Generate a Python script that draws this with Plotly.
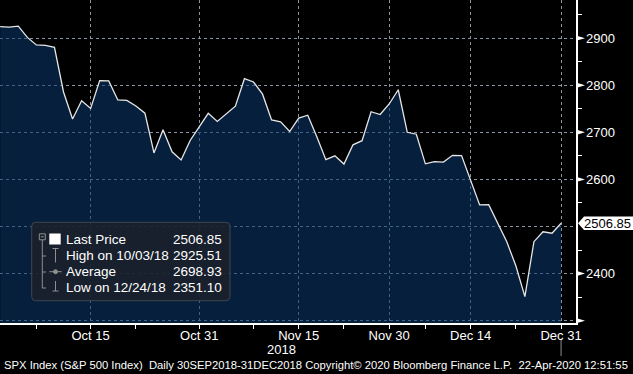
import plotly.graph_objects as go

# ---------------- data ----------------
dates = [
    "2018-10-01", "2018-10-02", "2018-10-03", "2018-10-04", "2018-10-05",
    "2018-10-08", "2018-10-09", "2018-10-10", "2018-10-11", "2018-10-12",
    "2018-10-15", "2018-10-16", "2018-10-17", "2018-10-18", "2018-10-19",
    "2018-10-22", "2018-10-23", "2018-10-24", "2018-10-25", "2018-10-26",
    "2018-10-29", "2018-10-30", "2018-10-31",
    "2018-11-01", "2018-11-02", "2018-11-05", "2018-11-06", "2018-11-07",
    "2018-11-08", "2018-11-09", "2018-11-12", "2018-11-13", "2018-11-14",
    "2018-11-15", "2018-11-16", "2018-11-19", "2018-11-20", "2018-11-21",
    "2018-11-23", "2018-11-26", "2018-11-27", "2018-11-28", "2018-11-29",
    "2018-11-30",
    "2018-12-03", "2018-12-04", "2018-12-06", "2018-12-07", "2018-12-10",
    "2018-12-11", "2018-12-12", "2018-12-13", "2018-12-14", "2018-12-17",
    "2018-12-18", "2018-12-19", "2018-12-20", "2018-12-21", "2018-12-24",
    "2018-12-26", "2018-12-27", "2018-12-28", "2018-12-31",
]
closes = [
    2924.59, 2923.43, 2925.51, 2901.61, 2885.57,
    2884.43, 2880.34, 2785.68, 2728.37, 2767.13,
    2750.79, 2809.92, 2809.21, 2768.78, 2767.78,
    2755.88, 2740.69, 2656.10, 2705.57, 2658.69,
    2641.25, 2682.63, 2711.74,
    2740.37, 2723.06, 2738.31, 2755.45, 2813.89,
    2806.83, 2781.01, 2726.22, 2722.18, 2701.58,
    2730.20, 2736.27, 2690.73, 2641.89, 2649.93,
    2632.56, 2673.45, 2682.17, 2743.79, 2737.80,
    2760.17,
    2790.37, 2700.06, 2695.95, 2633.08, 2637.72,
    2636.78, 2651.07, 2650.54, 2599.95, 2545.94,
    2546.16, 2506.96, 2467.42, 2416.62, 2351.10,
    2467.70, 2488.83, 2485.74, 2506.85,
]
x_tick_dates = ["2018-10-15", "2018-10-31", "2018-11-15", "2018-11-30", "2018-12-14", "2018-12-31"]
x_tick_labels = ["Oct 15", "Oct 31", "Nov 15", "Nov 30", "Dec 14", "Dec 31"]
x_minor_dates = ["2018-10-05", "2018-10-22", "2018-11-08", "2018-11-23", "2018-12-07", "2018-12-21"]
y_grid_vals = [2300, 2400, 2500, 2600, 2700, 2800, 2900]
y_tick_labels = ["", "2400", "", "2600", "2700", "2800", "2900"]
y_minor_vals = [2350, 2450, 2550, 2650, 2750, 2850, 2950]
stat_labels = ["Last Price", "High on 10/03/18", "Average", "Low on 12/24/18"]
stat_values = ["2506.85", "2925.51", "2698.93", "2351.10"]
last_label = "2506.85"
footer = ("SPX Index (S&P 500 Index)\u00a0\u00a0Daily 30SEP2018-31DEC2018 Copyright\u00a9 2020 "
          "Bloomberg Finance L.P.\u00a0\u00a022-Apr-2020 12:51:55")
year_label = "2018"

# ---------------- geometry ----------------
W, H = 633, 374
PW, PH = 576, 323          # plot area size (l=0, t=0)
XR = [-0.02, 63.65]
YR = [2295, 2981]
FONT = "Liberation Sans, Arial, sans-serif"
WHITE = "#ffffff"
GRID = "#8a95a3"

xs = list(range(len(dates)))
idx = {d: i for i, d in enumerate(dates)}


def px2x(px):
    return px / PW


def py2y(py):
    return (PH - py) / PH


units_per_px = (YR[1] - YR[0]) / PH

fig = go.Figure()
fig.add_trace(go.Scatter(
    x=xs, y=closes, mode="lines",
    line=dict(color="#e6e6e6", width=1.3),
    fill="tozeroy", fillcolor="rgba(9,56,109,0.55)",
    hoverinfo="skip", showlegend=False,
))

shapes = []
# y tick triangles on right axis
for v in y_grid_vals:
    if v == 2500:
        continue
    h = 2.7 * units_per_px
    shapes.append(dict(type="path", xref="paper", yref="y",
                       path=f"M {px2x(576)} {v + h} L {px2x(585)} {v} L {px2x(576)} {v - h} Z",
                       fillcolor=WHITE, line=dict(width=0), layer="above"))

# last price marker box
lp = closes[-1]
h = 6.8 * units_per_px
shapes.append(dict(type="path", xref="paper", yref="y",
                   path=(f"M {px2x(578)} {lp} L {px2x(584)} {lp + h} L {px2x(633)} {lp + h} "
                         f"L {px2x(633)} {lp - h} L {px2x(584)} {lp - h} Z"),
                   fillcolor=WHITE, line=dict(width=0), layer="above"))

# vertical marker under last date
shapes.append(dict(type="line", xref="x", yref="paper",
                   x0=idx["2018-12-31"], x1=idx["2018-12-31"], y0=py2y(340), y1=py2y(356),
                   line=dict(color="#8c8c8c", width=1)))

# legend box (rounded)
bx0, bx1, by0, by1, r = 31.7, 230, 222.3, 300.7, 4
pts = (f"M {px2x(bx0 + r)} {py2y(by0)} L {px2x(bx1 - r)} {py2y(by0)} "
       f"Q {px2x(bx1)} {py2y(by0)} {px2x(bx1)} {py2y(by0 + r)} "
       f"L {px2x(bx1)} {py2y(by1 - r)} Q {px2x(bx1)} {py2y(by1)} {px2x(bx1 - r)} {py2y(by1)} "
       f"L {px2x(bx0 + r)} {py2y(by1)} Q {px2x(bx0)} {py2y(by1)} {px2x(bx0)} {py2y(by1 - r)} "
       f"L {px2x(bx0)} {py2y(by0 + r)} Q {px2x(bx0)} {py2y(by0)} {px2x(bx0 + r)} {py2y(by0)} Z")
shapes.append(dict(type="path", xref="paper", yref="paper", path=pts,
                   fillcolor="rgba(27,33,43,0.88)", line=dict(color="#3e4652", width=1), layer="above"))

ICON = "#8f8f8f"


def seg(x0, y0, x1, y1, color=ICON, w=1):
    shapes.append(dict(type="line", xref="paper", yref="paper",
                       x0=px2x(x0), y0=py2y(y0), x1=px2x(x1), y1=py2y(y1),
                       line=dict(color=color, width=w), layer="above"))


rows_y = [239.5, 255.5, 271.5, 287.5]
# tree
shapes.append(dict(type="rect", xref="paper", yref="paper",
                   x0=px2x(39.3), x1=px2x(45.3), y0=py2y(233.8), y1=py2y(239.8),
                   line=dict(color=ICON, width=1), fillcolor="rgba(0,0,0,0)", layer="above"))
seg(40.8, 236.8, 43.8, 236.8)
seg(42.3, 239.8, 42.3, 288)
for ry in rows_y[1:]:
    seg(42.3, ry + 0.5, 46, ry + 0.5)
# last price white square
shapes.append(dict(type="rect", xref="paper", yref="paper",
                   x0=px2x(49.3), x1=px2x(60.7), y0=py2y(233.5), y1=py2y(244.5),
                   line=dict(width=0), fillcolor=WHITE, layer="above"))
# high icon
seg(52.5, 248.5, 58.5, 248.5)
seg(55.5, 248.5, 55.5, 262.5)
# average icon
seg(49.3, 271.7, 61.7, 271.7)
shapes.append(dict(type="circle", xref="paper", yref="paper",
                   x0=px2x(53.5), x1=px2x(57.5), y0=py2y(269.7), y1=py2y(273.7),
                   line=dict(color=ICON, width=1), fillcolor=ICON, layer="above"))
# low icon
seg(55.5, 281, 55.5, 291)
seg(52.5, 291, 58.5, 291)

annotations = []
for lab, val, ry in zip(stat_labels, stat_values, rows_y):
    annotations.append(dict(xref="paper", yref="paper", x=px2x(63.5), y=py2y(ry),
                            xanchor="left", yanchor="middle", text=lab, showarrow=False,
                            font=dict(family=FONT, size=13.5, color=WHITE)))
    annotations.append(dict(xref="paper", yref="paper", x=px2x(223.5), y=py2y(ry),
                            xanchor="right", yanchor="middle", text=val, showarrow=False,
                            font=dict(family=FONT, size=13.5, color=WHITE)))

annotations.append(dict(xref="paper", yref="y", x=px2x(632), y=lp, xanchor="right", yanchor="middle",
                        text=last_label, showarrow=False, borderpad=0,
                        font=dict(family=FONT, size=13, color="#000000")))
annotations.append(dict(xref="paper", yref="paper", x=px2x(281), y=py2y(349), xanchor="center",
                        yanchor="middle", text=year_label, showarrow=False,
                        font=dict(family=FONT, size=13, color=WHITE)))
annotations.append(dict(xref="paper", yref="paper", x=px2x(2), y=py2y(365), xanchor="left",
                        yanchor="middle", text=footer, showarrow=False,
                        font=dict(family=FONT, size=11.25, color=WHITE)))

fig.update_layout(
    template="none",
    width=W, height=H,
    margin=dict(l=0, r=W - PW, t=0, b=H - PH, pad=0),
    paper_bgcolor="#000000", plot_bgcolor="#000000",
    showlegend=False,
    shapes=shapes, annotations=annotations,
    xaxis=dict(
        range=XR, autorange=False, fixedrange=True,
        tickvals=[idx[d] for d in x_tick_dates], ticktext=x_tick_labels,
        ticks="outside", ticklen=4, tickwidth=1, tickcolor=WHITE,
        ticklabelstandoff=-5,
        tickfont=dict(family=FONT, size=13, color=WHITE),
        showline=True, linecolor=WHITE, linewidth=2,
        showgrid=True, gridcolor=GRID, gridwidth=1, griddash="3px,3px",
        zeroline=False, automargin=False,
        minor=dict(tickvals=[idx[d] for d in x_minor_dates], ticks="outside", ticklen=4,
                   tickcolor=WHITE, tickwidth=1, showgrid=False),
    ),
    yaxis=dict(
        range=YR, autorange=False, fixedrange=True, side="right",
        tickvals=y_grid_vals, ticktext=y_tick_labels,
        ticks="outside", ticklen=6, tickcolor="rgba(0,0,0,0)",
        tickfont=dict(family=FONT, size=13, color=WHITE),
        showline=True, linecolor=WHITE, linewidth=1.5,
        showgrid=True, gridcolor=GRID, gridwidth=1, griddash="3px,3px",
        zeroline=False, automargin=False,
        minor=dict(tickvals=y_minor_vals, ticks="outside", ticklen=4,
                   tickcolor=WHITE, tickwidth=1, showgrid=False),
    ),
)

fig.write_html(
    "out.html",
    config={"displayModeBar": False, "staticPlot": True},
    post_script="document.body.style.margin='0';document.body.style.background='#000';"
                "document.body.style.overflow='hidden';",
)
